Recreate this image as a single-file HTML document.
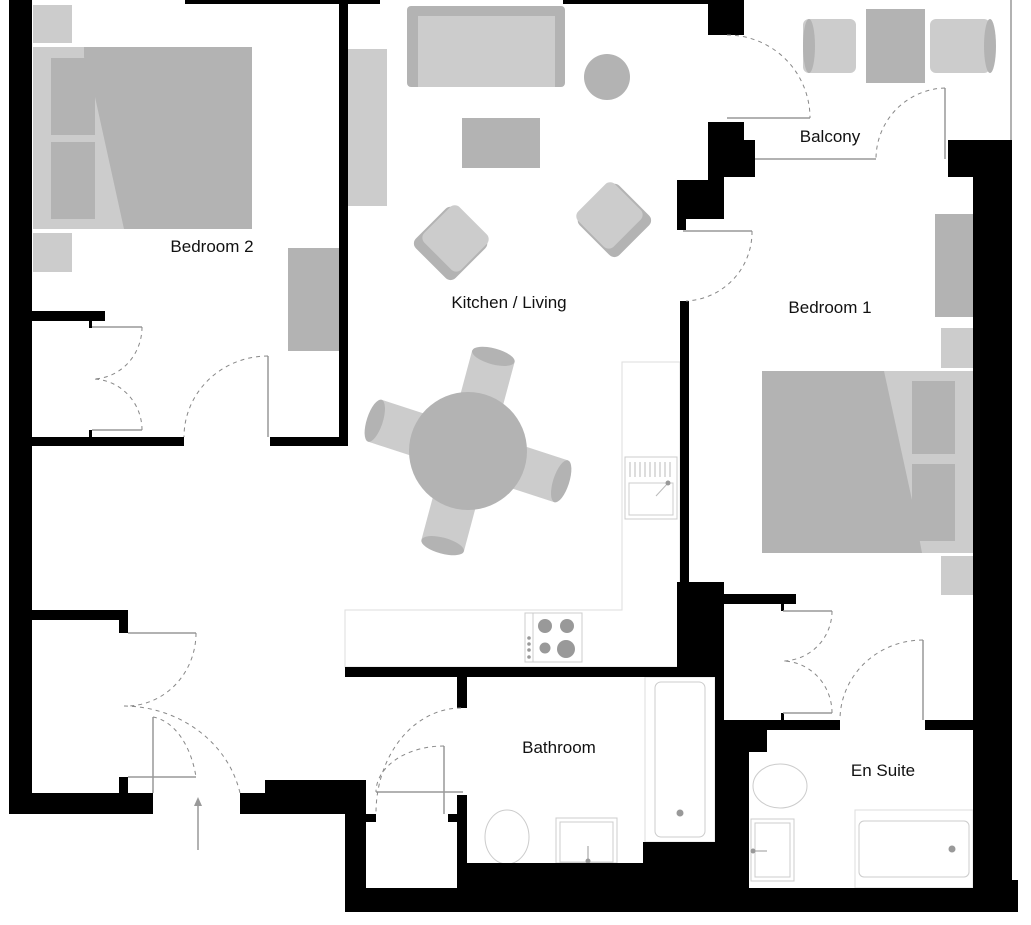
<!DOCTYPE html>
<html><head><meta charset="utf-8"><style>html,body{margin:0;padding:0;background:#fff}svg{display:block}text{font-family:"Liberation Sans",sans-serif;font-size:17px;fill:#111;text-anchor:middle}</style></head>
<body>
<svg width="1031" height="925" viewBox="0 0 1031 925" xmlns="http://www.w3.org/2000/svg">
<g>
<rect x="33" y="5" width="39" height="38" fill="#ccc"/>
<rect x="33" y="233" width="39" height="39" fill="#ccc"/>
<rect x="33" y="47" width="219" height="182" fill="#ccc"/>
<polygon points="84,47 252,47 252,229 124,229 95,97 84,57" fill="#b3b3b3"/>
<rect x="51" y="58" width="44" height="77" fill="#b3b3b3"/>
<rect x="51" y="142" width="44" height="77" fill="#b3b3b3"/>
<rect x="288" y="248" width="51" height="103" fill="#b3b3b3"/>
<rect x="348" y="49" width="39" height="157" fill="#ccc"/>
<rect x="407" y="6" width="158" height="81" rx="4" fill="#b3b3b3"/>
<rect x="418" y="16" width="137" height="71" fill="#ccc"/>
<circle cx="607" cy="77" r="23" fill="#b3b3b3"/>
<rect x="462" y="118" width="78" height="50" fill="#b3b3b3"/>
<g transform="translate(452,242) rotate(45)"><rect x="-28" y="-26" width="56" height="56" rx="7" fill="#b3b3b3"/><rect x="-26" y="-30" width="52" height="50" rx="7" fill="#ccc"/></g>
<g transform="translate(613,219) rotate(-45)"><rect x="-28" y="-26" width="56" height="56" rx="7" fill="#b3b3b3"/><rect x="-26" y="-30" width="52" height="50" rx="7" fill="#ccc"/></g>
<g transform="translate(468,451)">
<g transform="rotate(-72)"><rect x="-22" y="-98" width="44" height="48" fill="#ccc"/><ellipse cx="0" cy="-98" rx="22" ry="8" fill="#b3b3b3"/></g>
<g transform="rotate(15)"><rect x="-22" y="-98" width="44" height="48" fill="#ccc"/><ellipse cx="0" cy="-98" rx="22" ry="8" fill="#b3b3b3"/></g>
<g transform="rotate(108)"><rect x="-22" y="-98" width="44" height="48" fill="#ccc"/><ellipse cx="0" cy="-98" rx="22" ry="8" fill="#b3b3b3"/></g>
<g transform="rotate(195)"><rect x="-22" y="-98" width="44" height="48" fill="#ccc"/><ellipse cx="0" cy="-98" rx="22" ry="8" fill="#b3b3b3"/></g>
<circle cx="0" cy="0" r="59" fill="#b3b3b3"/>
</g>
<path d="M345,610 H622 V362 H680 V667 H345 Z" fill="none" stroke="#ddd" stroke-width="1"/>
<rect x="625" y="457" width="52" height="62" fill="none" stroke="#ccc"/>
<rect x="629" y="483" width="44" height="32" fill="none" stroke="#ccc"/>
<g stroke="#bbb"><line x1="630" y1="462" x2="630" y2="477"/><line x1="635" y1="462" x2="635" y2="477"/><line x1="640" y1="462" x2="640" y2="477"/><line x1="645" y1="462" x2="645" y2="477"/><line x1="650" y1="462" x2="650" y2="477"/><line x1="655" y1="462" x2="655" y2="477"/><line x1="660" y1="462" x2="660" y2="477"/><line x1="665" y1="462" x2="665" y2="477"/><line x1="670" y1="462" x2="670" y2="477"/><line x1="656" y1="496" x2="668" y2="483"/></g>
<circle cx="668" cy="483" r="2.5" fill="#999"/>
<rect x="525" y="613" width="57" height="49" fill="none" stroke="#ccc"/>
<line x1="533" y1="613" x2="533" y2="662" stroke="#ccc"/>
<circle cx="545" cy="626" r="7" fill="#999"/><circle cx="567" cy="626" r="7" fill="#999"/>
<circle cx="545" cy="648" r="5.5" fill="#999"/><circle cx="566" cy="649" r="9" fill="#999"/>
<circle cx="529" cy="638" r="1.8" fill="#999"/><circle cx="529" cy="644" r="1.8" fill="#999"/><circle cx="529" cy="650" r="1.8" fill="#999"/><circle cx="529" cy="657" r="1.8" fill="#999"/>
<rect x="803" y="19" width="53" height="54" rx="6" fill="#ccc"/><ellipse cx="809" cy="46" rx="6" ry="27" fill="#b3b3b3"/>
<rect x="930" y="19" width="60" height="54" rx="6" fill="#ccc"/><ellipse cx="990" cy="46" rx="6" ry="27" fill="#b3b3b3"/>
<rect x="866" y="9" width="59" height="74" fill="#b3b3b3"/>
<line x1="1011" y1="0" x2="1011" y2="140" stroke="#999" stroke-width="1.5"/>
<rect x="935" y="214" width="38" height="103" fill="#b3b3b3"/>
<rect x="941" y="328" width="32" height="40" fill="#ccc"/>
<rect x="941" y="556" width="32" height="39" fill="#ccc"/>
<rect x="762" y="371" width="218" height="182" fill="#ccc"/>
<polygon points="762,371 884,371 912,500 922,553 762,553" fill="#b3b3b3"/>
<rect x="912" y="381" width="43" height="73" fill="#b3b3b3"/>
<rect x="912" y="464" width="43" height="77" fill="#b3b3b3"/>
<rect x="645" y="677" width="70" height="165" fill="none" stroke="#ddd"/>
<rect x="655" y="682" width="50" height="155" rx="6" fill="none" stroke="#ccc"/>
<circle cx="680" cy="813" r="3.5" fill="#999"/>
<ellipse cx="507" cy="837" rx="22" ry="27" fill="none" stroke="#ccc"/>
<rect x="556" y="818" width="61" height="45" fill="none" stroke="#ccc"/>
<rect x="560" y="822" width="53" height="40" fill="none" stroke="#ccc"/>
<line x1="588" y1="846" x2="588" y2="861" stroke="#999"/><circle cx="588" cy="861" r="2.5" fill="#999"/>
<ellipse cx="780" cy="786" rx="27" ry="22" fill="none" stroke="#ccc"/>
<rect x="751" y="819" width="43" height="62" fill="none" stroke="#ccc"/>
<rect x="755" y="823" width="35" height="54" fill="none" stroke="#ccc"/>
<line x1="752" y1="851" x2="767" y2="851" stroke="#999"/><circle cx="753" cy="851" r="2.5" fill="#999"/>
<rect x="855" y="810" width="118" height="78" fill="none" stroke="#ddd"/>
<rect x="859" y="821" width="110" height="56" rx="5" fill="none" stroke="#ccc"/>
<circle cx="952" cy="849" r="3.5" fill="#999"/>
</g>
<g fill="#000">
<rect x="9" y="0" width="23" height="814"/>
<rect x="9" y="793" width="144" height="21"/>
<rect x="185" y="0" width="195" height="4"/>
<rect x="339" y="0" width="9" height="446"/>
<rect x="32" y="437" width="152" height="9"/>
<rect x="270" y="437" width="78" height="9"/>
<rect x="32" y="311" width="73" height="10"/>
<rect x="89" y="321" width="3" height="7"/><rect x="89" y="430" width="3" height="7"/>
<rect x="32" y="610" width="96" height="10"/>
<rect x="119" y="620" width="9" height="13"/>
<rect x="119" y="777" width="9" height="16"/>
<rect x="240" y="793" width="25" height="21"/>
<rect x="265" y="780" width="101" height="34"/>
<rect x="345" y="814" width="21" height="98"/>
<rect x="366" y="814" width="10" height="8"/>
<rect x="345" y="888" width="673" height="24"/>
<rect x="457" y="795" width="10" height="93"/>
<rect x="448" y="814" width="10" height="8"/>
<rect x="467" y="863" width="180" height="25"/>
<rect x="643" y="842" width="106" height="46"/>
<rect x="715" y="720" width="34" height="168"/>
<rect x="715" y="667" width="9" height="53"/>
<rect x="749" y="729" width="18" height="23"/>
<rect x="345" y="667" width="370" height="10"/>
<rect x="457" y="677" width="10" height="31"/>
<rect x="680" y="301" width="9" height="376"/>
<rect x="677" y="582" width="47" height="95"/>
<rect x="724" y="594" width="72" height="10"/>
<rect x="781" y="604" width="3" height="7"/>
<rect x="724" y="720" width="116" height="10"/>
<rect x="781" y="713" width="3" height="7"/>
<rect x="925" y="720" width="48" height="10"/>
<rect x="973" y="140" width="39" height="772"/>
<rect x="1000" y="880" width="18" height="32"/>
<rect x="948" y="140" width="25" height="37"/>
<rect x="563" y="0" width="150" height="4"/>
<rect x="708" y="0" width="36" height="35"/>
<polygon points="708,122 744,122 744,140 755,140 755,177 724,177 724,219 686,219 686,230 677,230 677,180 708,180"/>
</g>
<g stroke="#999" stroke-width="1.5" fill="none">
<line x1="727" y1="118" x2="810" y2="118"/>
<line x1="755" y1="159" x2="876" y2="159"/>
<line x1="945" y1="88" x2="945" y2="159"/>
<line x1="683" y1="231" x2="752" y2="231"/>
<line x1="268" y1="356" x2="268" y2="437"/>
<line x1="92" y1="327" x2="142" y2="327"/>
<line x1="92" y1="430" x2="142" y2="430"/>
<line x1="128" y1="633" x2="196" y2="633"/>
<line x1="128" y1="777" x2="196" y2="777"/>
<line x1="153" y1="717" x2="153" y2="793"/>
<line x1="444" y1="746" x2="444" y2="814"/>
<line x1="376" y1="792" x2="463" y2="792"/>
<line x1="783" y1="611" x2="832" y2="611"/>
<line x1="783" y1="713" x2="832" y2="713"/>
<line x1="923" y1="640" x2="923" y2="720"/>
<line x1="198" y1="850" x2="198" y2="804"/>
</g>
<polygon points="198,797 194,806 202,806" fill="#999"/>
<g stroke="#888" stroke-width="1" fill="none" stroke-dasharray="4,4">
<path d="M727,35 A83,83 0 0 1 810,118"/>
<path d="M945,88 A71,71 0 0 0 876,159"/>
<path d="M752,231 A69,69 0 0 1 686,301"/>
<path d="M268,356 A84,81 0 0 0 184,437"/>
<path d="M142,327 A50,52 0 0 1 92,379"/>
<path d="M142,430 A50,51 0 0 0 92,379"/>
<path d="M196,633 A70,73 0 0 1 124,706"/>
<path d="M124,706 A120,110 0 0 1 240,793"/>
<path d="M153,717 A50,80 0 0 1 196,777"/>
<path d="M461,708 A85,105 0 0 0 376,813"/>
<path d="M444,746 A68,46 0 0 0 376,792"/>
<path d="M832,611 A50,50 0 0 1 782,661"/>
<path d="M832,713 A50,52 0 0 0 782,661"/>
<path d="M923,640 A83,80 0 0 0 840,720"/>
</g>
<text x="212" y="252">Bedroom 2</text>
<text x="509" y="308">Kitchen / Living</text>
<text x="830" y="142">Balcony</text>
<text x="830" y="313">Bedroom 1</text>
<text x="559" y="753">Bathroom</text>
<text x="883" y="776">En Suite</text>
</svg>
</body></html>
